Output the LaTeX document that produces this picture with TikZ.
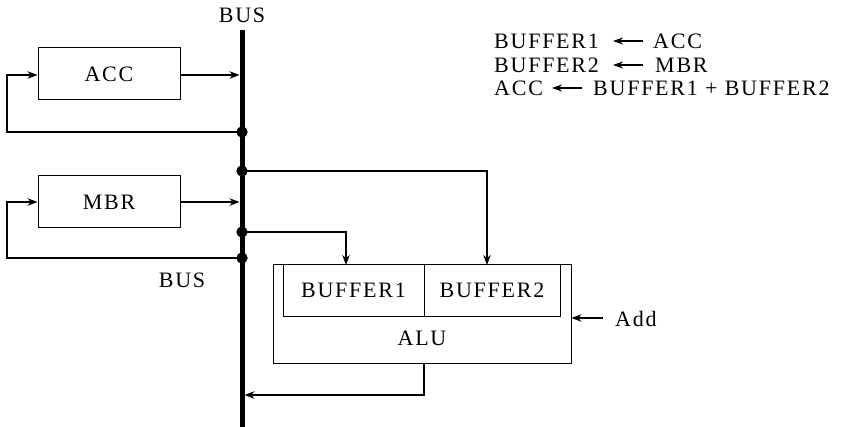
\documentclass[tikz,border=0pt]{standalone}
\usepackage{fontspec}
\setmainfont{Liberation Serif}[LetterSpace=8]
\usetikzlibrary{arrows.meta}
\begin{document}
\begin{tikzpicture}[x=1pt,y=-1pt,
  every node/.style={font=\fontsize{22}{26}\selectfont},
  regbox/.style={draw,line width=1pt,minimum width=142pt,minimum height=52pt,inner sep=0pt},
  txt/.style={inner sep=0pt},
  arr/.style={line width=1.1pt,-{Stealth[length=10pt,width=7.5pt]}},
  eqarr/.style={line width=1.6pt,-{Stealth[length=10pt,width=7pt]}},
  dot/.style={circle,fill=black,minimum size=11pt,inner sep=0pt}]
\useasboundingbox (0,0) rectangle (844,427);
% bus
\coordinate (busT) at (242,30);
\coordinate (busB) at (242,427);
\node[txt] (busTop) at (242,15) {BUS};
\node[txt] (busBot) at (182,280) {BUS};
% registers
\node[regbox] (acc) at (109,74) {\raisebox{-5pt}{ACC}};
\node[regbox] (mbr) at (109,202) {\raisebox{-4pt}{MBR}};
% ALU
\node[draw,line width=1pt,minimum width=298pt,minimum height=99pt,inner sep=0pt] (alu) at (422,314.5) {};
\node[regbox,minimum width=141pt] (buf1) at (353.5,291) {\raisebox{2pt}{BUFFER1}};
\node[regbox,minimum width=136pt] (buf2) at (492,291) {\raisebox{2pt}{BUFFER2}};
\node[txt] (alulbl) at (422,338) {ALU};
% coordinates
\coordinate (accL) at (7,75);
\coordinate (mbrL) at (7,202);
\coordinate (b1in) at (346,265);
\coordinate (b2in) at (487,265);
\coordinate (aluOut) at (424,364);
\coordinate (outY) at (424,395);
\coordinate (addS) at (603,318);
% connectors
\draw[arr,shorten >=2.5pt] (accL -| acc.east) -- (accL -| busT);
\draw[arr,shorten >=2.5pt] (mbr.east) -- (mbr.east -| busT);
\node[dot] (d1) at (242,132) {};
\node[dot] (d2) at (242,171) {};
\node[dot] (d3) at (242,232) {};
\node[dot] (d4) at (242,258) {};
\draw[arr] (d1.center) -| (accL) -- (accL -| acc.west);
\draw[arr] (d4.center) -| (mbrL) -- (mbr.west);
\draw[arr] (d2.center) -| (b2in);
\draw[arr] (d3.center) -| (b1in);
\draw[arr,shorten >=2.5pt] (aluOut) -- (outY) -- (outY -| busT);
\draw[arr] (addS) -- (addS -| alu.east);
\node[txt,anchor=west] (add) at (615,319) {Add};
\draw[line width=5pt] (busT) -- (busB);
\foreach \d in {d1,d2,d3,d4} \node[dot] at (\d) {};
% equations
\node[txt,anchor=west] (e1l) at (494,41) {BUFFER1};
\node[txt,anchor=west] (e1r) at (653,41) {ACC};
\node[txt,anchor=west] (e2l) at (494,65) {BUFFER2};
\node[txt,anchor=west] (e2r) at (655,65) {MBR};
\node[txt,anchor=west] (e3l) at (494,88) {ACC};
\node[txt,anchor=west] (e3r) at (593,88) {BUFFER1 + BUFFER2};
\draw[eqarr] ([xshift=-10pt]e1r.west) -- ([xshift=-40pt]e1r.west);
\draw[eqarr] ([xshift=-12pt]e2r.west) -- ([xshift=-42pt]e2r.west);
\draw[eqarr] ([xshift=-11pt]e3r.west) -- ([xshift=-41pt]e3r.west);
\end{tikzpicture}
\end{document}
